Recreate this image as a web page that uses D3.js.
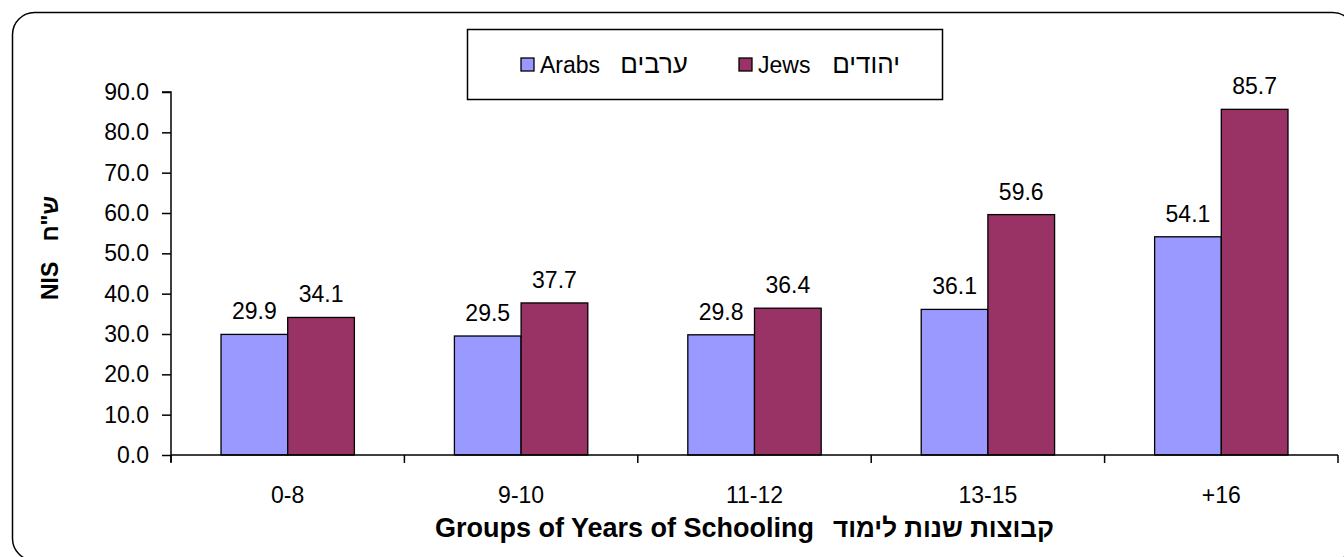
<!DOCTYPE html>
<html>
<head>
<meta charset="utf-8">
<script src="https://cdn.jsdelivr.net/npm/d3@7"></script>
<style>
  html, body { margin: 0; padding: 0; background: #fff; }
  svg { display: block; font-family: "Liberation Sans", Arial, sans-serif; }
</style>
</head>
<body>
<svg id="chart" width="1344" height="557"></svg>
<script>
const categories = ["0-8", "9-10", "11-12", "13-15", "+16"];
const arabs = [29.9, 29.5, 29.8, 36.1, 54.1];
const jews = [34.1, 37.7, 36.4, 59.6, 85.7];
const yTicks = [0, 10, 20, 30, 40, 50, 60, 70, 80, 90];
const seriesEn = ["Arabs", "Jews"];
const seriesHe = ["ערבים", "יהודים"];
const yTitleEn = "NIS";
const yTitleHe = "ש\"ח";
const xTitleEn = "Groups of Years of Schooling";
const xTitleHe = "קבוצות שנות לימוד";

(function () {
const colors = ["#9999FF", "#993366"];
const series = [arabs, jews];
const FS = 23;
const FONT = "'Liberation Sans', Arial, sans-serif";

const svg = d3.select("#chart");
const pL = 171, pR = 1338, pT = 92, pB = 455;

// outer rounded border
svg.append("rect")
  .attr("x", 12.5).attr("y", 12.5)
  .attr("width", 1342).attr("height", 548)
  .attr("rx", 22).attr("ry", 22)
  .attr("fill", "#fff").attr("stroke", "#000").attr("stroke-width", 1.5);

const x = d3.scaleBand().domain(categories).range([pL, pR]).paddingInner(0).paddingOuter(0);
const y = d3.scaleLinear().domain([0, 90]).range([pB, pT]);

const bw = x.bandwidth() / 3.5;

const g = svg.append("g");

series.forEach((vals, si) => {
  g.selectAll(null).data(categories).enter().append("rect")
    .attr("x", (c) => x(c) + x.bandwidth() / 2 - bw + si * bw)
    .attr("y", (c, i) => y(vals[i]))
    .attr("width", bw)
    .attr("height", (c, i) => y(0) - y(vals[i]))
    .attr("fill", colors[si])
    .attr("stroke", "#000").attr("stroke-width", 1.3);

  g.selectAll(null).data(categories).enter().append("text")
    .attr("x", (c) => x(c) + x.bandwidth() / 2 - bw / 2 + si * bw)
    .attr("y", (c, i) => y(vals[i]) - 15)
    .attr("text-anchor", "middle")
    .attr("font-size", FS)
    .attr("fill", "#000")
    .text((c, i) => vals[i].toFixed(1));
});

// y axis
const yAxis = d3.axisLeft(y).tickValues(yTicks).tickFormat(d3.format(".1f")).tickSize(9).tickPadding(13);
const yg = svg.append("g").attr("transform", `translate(${pL},0)`).call(yAxis);
yg.select(".domain").attr("d", `M-9,${pT}H0V${pB + 7}`).attr("stroke", "#000").attr("stroke-width", 1.5);
yg.selectAll(".tick line").attr("stroke", "#000").attr("stroke-width", 1.5);
yg.selectAll(".tick text").attr("font-size", FS).attr("fill", "#000").attr("font-family", FONT);

// x axis
const xAxis = d3.axisBottom(x).tickSize(0).tickPadding(32);
const xg = svg.append("g").attr("transform", `translate(0,${pB})`).call(xAxis);
xg.select(".domain").attr("d", `M${pL},0H${pR}`).attr("stroke", "#000").attr("stroke-width", 1.5);
xg.selectAll(".tick line").remove();
xg.selectAll(".tick text").attr("font-size", FS).attr("fill", "#000").attr("font-family", FONT);
const bounds = categories.map(c => x(c)).concat([pR]);
xg.selectAll(".btick").data(bounds).enter().append("line")
  .attr("x1", d => d).attr("x2", d => d).attr("y1", 0).attr("y2", 8)
  .attr("stroke", "#000").attr("stroke-width", 1.5);

// y axis title (rotated)
const yt = svg.append("g").attr("transform", "translate(58,0) rotate(-90)");
yt.append("text").attr("x", -300).attr("y", 0)
  .attr("text-anchor", "start").attr("font-size", FS).attr("font-weight", "bold")
  .text(yTitleEn);
yt.append("text").attr("x", -196).attr("y", 0)
  .attr("text-anchor", "end").attr("font-size", FS).attr("font-weight", "bold")
  .text(yTitleHe);

// x axis title
svg.append("text")
  .attr("x", 814).attr("y", 537)
  .attr("text-anchor", "end")
  .attr("font-size", 27).attr("font-weight", "bold")
  .text(xTitleEn);
svg.append("text")
  .attr("x", 1054).attr("y", 537)
  .attr("text-anchor", "end")
  .attr("font-size", 26).attr("font-weight", "bold")
  .text(xTitleHe);

// legend
const lg = svg.append("g");
lg.append("rect").attr("x", 467.5).attr("y", 29.5).attr("width", 475).attr("height", 70)
  .attr("fill", "#fff").attr("stroke", "#000").attr("stroke-width", 1.5);
const legX = [521, 739];
const heEnd = [688, 900];
seriesEn.forEach((n, i) => {
  lg.append("rect").attr("x", legX[i]).attr("y", 58).attr("width", 13).attr("height", 13)
    .attr("fill", colors[i]).attr("stroke", "#000").attr("stroke-width", 1.3);
  lg.append("text").attr("x", legX[i] + 19).attr("y", 73)
    .attr("font-size", FS).attr("fill", "#000").text(n);
  lg.append("text").attr("x", heEnd[i]).attr("y", 73)
    .attr("text-anchor", "end")
    .attr("font-size", 26).attr("fill", "#000").text(seriesHe[i]);
});
})();
</script>
</body>
</html>
